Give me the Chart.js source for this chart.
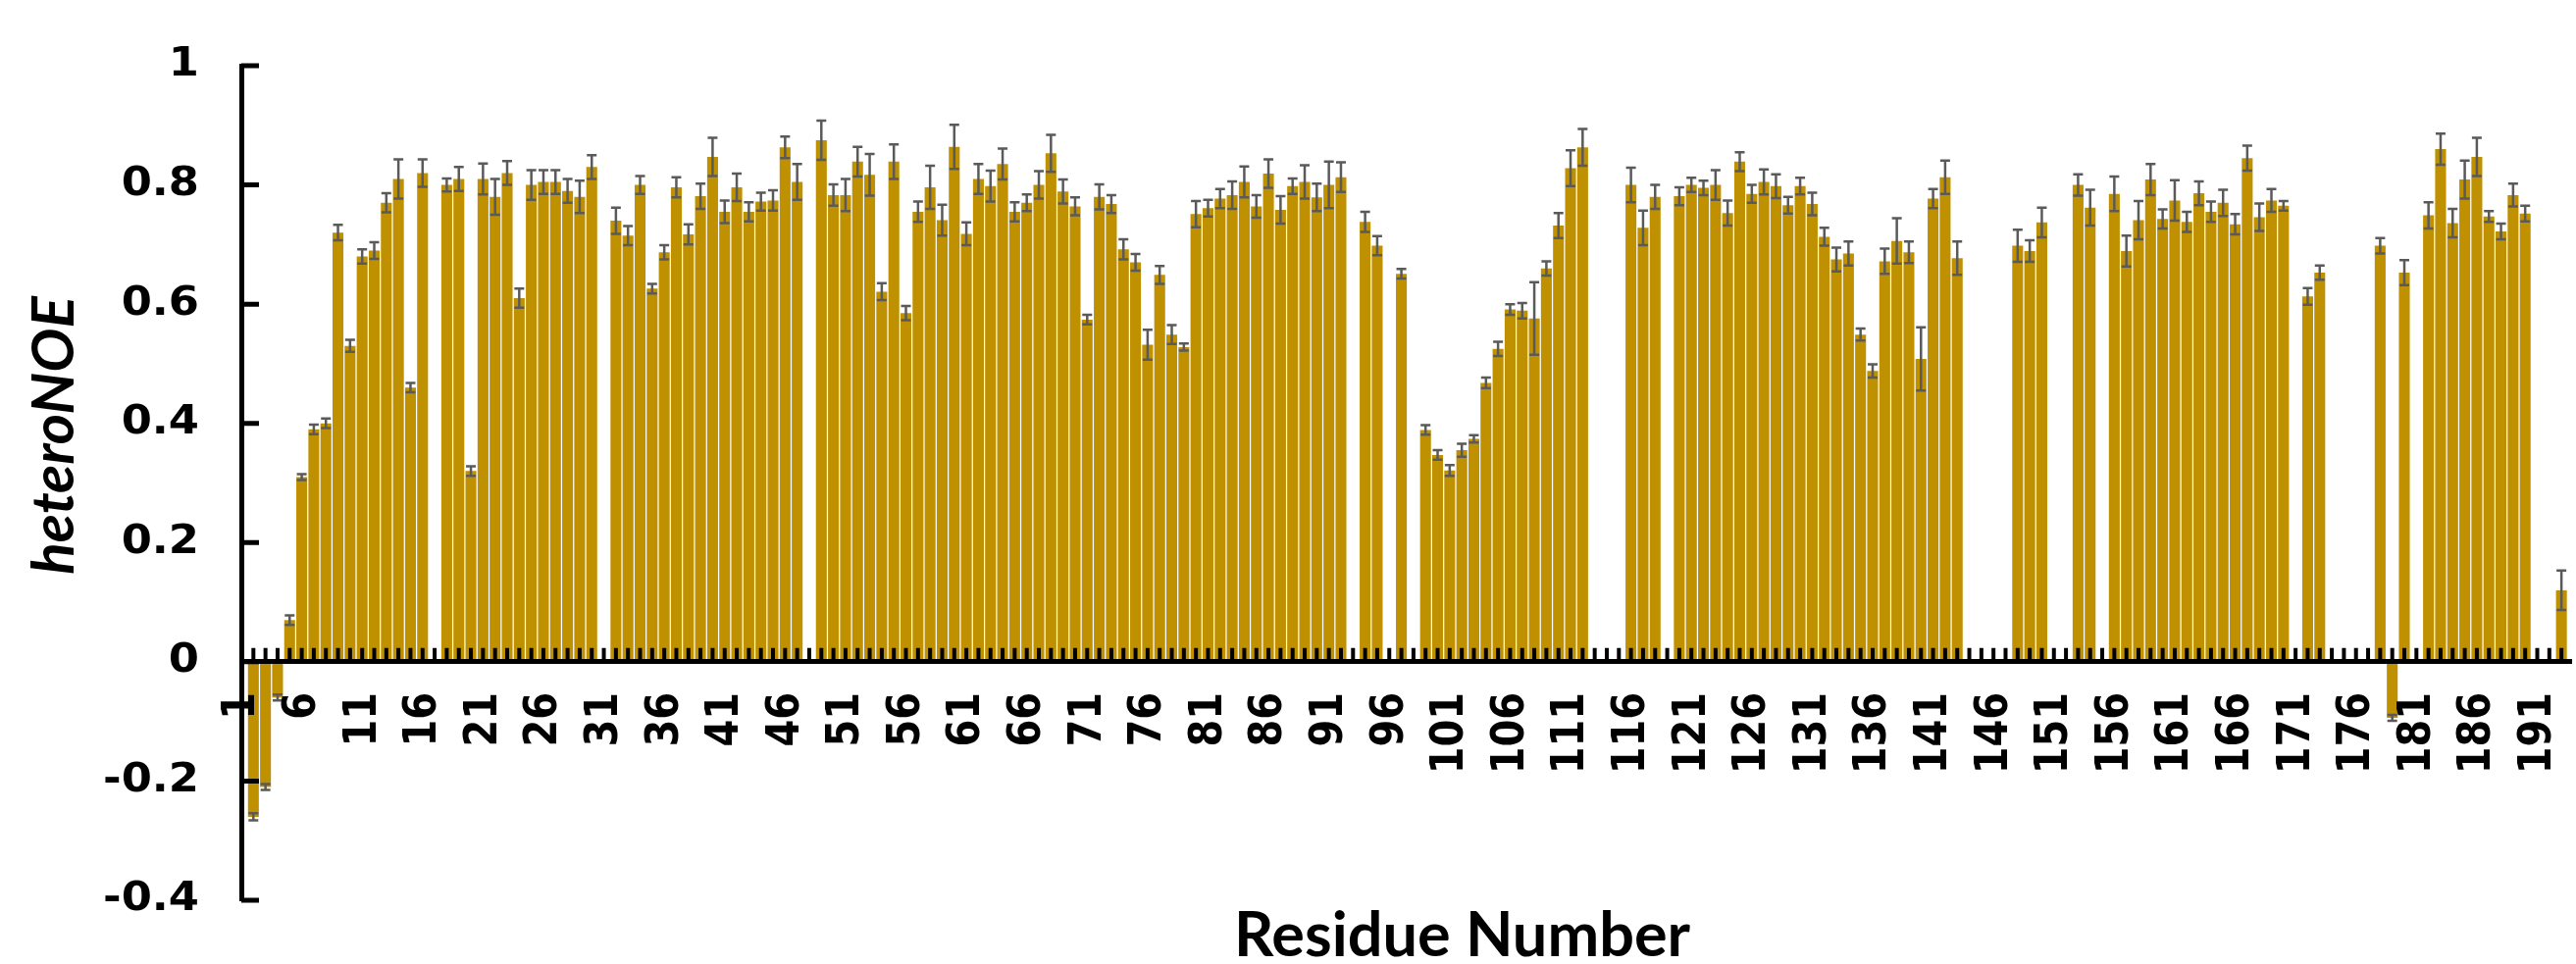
<!DOCTYPE html>
<html>
<head>
<meta charset="utf-8">
<script src="https://cdn.jsdelivr.net/npm/chart.js@4.4.1/dist/chart.umd.min.js"></script>
<style>
  html, body { margin: 0; padding: 0; background: #fff; }
  #wrap { width: 2626px; height: 983px; }
</style>
</head>
<body>
<div id="wrap"><canvas id="chart" width="2626" height="983"></canvas></div>
<script>
// residue numbers (x) of the protein
var residues = [
  1, 2, 3, 4, 5, 6, 7, 8, 9, 10, 11, 12, 13, 14, 15, 16, 17, 18, 19, 20,
  21, 22, 23, 24, 25, 26, 27, 28, 29, 30, 31, 32, 33, 34, 35, 36, 37, 38, 39, 40,
  41, 42, 43, 44, 45, 46, 47, 48, 49, 50, 51, 52, 53, 54, 55, 56, 57, 58, 59, 60,
  61, 62, 63, 64, 65, 66, 67, 68, 69, 70, 71, 72, 73, 74, 75, 76, 77, 78, 79, 80,
  81, 82, 83, 84, 85, 86, 87, 88, 89, 90, 91, 92, 93, 94, 95, 96, 97, 98, 99, 100,
  101, 102, 103, 104, 105, 106, 107, 108, 109, 110, 111, 112, 113, 114, 115, 116, 117, 118, 119, 120,
  121, 122, 123, 124, 125, 126, 127, 128, 129, 130, 131, 132, 133, 134, 135, 136, 137, 138, 139, 140,
  141, 142, 143, 144, 145, 146, 147, 148, 149, 150, 151, 152, 153, 154, 155, 156, 157, 158, 159, 160,
  161, 162, 163, 164, 165, 166, 167, 168, 169, 170, 171, 172, 173, 174, 175, 176, 177, 178, 179, 180,
  181, 182, 183, 184, 185, 186, 187, 188, 189, 190, 191, 192
];

// heteronuclear NOE per residue (null = not assigned)
var heteroNOE = [
  -0.26, -0.21, -0.06, 0.07, 0.31, 0.39, 0.40, 0.72, 0.53, 0.68,
  0.69, 0.77, 0.81, 0.46, 0.82, null, 0.80, 0.81, 0.32, 0.81,
  0.78, 0.82, 0.61, 0.80, 0.805, 0.805, 0.79, 0.78, 0.83, null,
  0.74, 0.715, 0.80, 0.626, 0.687, 0.796, 0.717, 0.781, 0.847, 0.755,
  0.796, 0.755, 0.772, 0.774, 0.863, 0.805, null, 0.875, 0.783, 0.783,
  0.839, 0.817, 0.621, 0.839, 0.585, 0.755, 0.796, 0.741, 0.864, 0.718,
  0.81, 0.798, 0.835, 0.755, 0.77, 0.80, 0.853, 0.789, 0.764, 0.574,
  0.78, 0.768, 0.692, 0.67, 0.532, 0.649, 0.549, 0.528, 0.751, 0.761,
  0.777, 0.783, 0.805, 0.764, 0.819, 0.758, 0.798, 0.805, 0.779, 0.80,
  0.813, null, 0.738, 0.698, null, 0.651, null, 0.389, 0.347, 0.321,
  0.355, 0.374, 0.468, 0.525, 0.591, 0.589, 0.576, 0.66, 0.732, 0.828,
  0.863, null, null, null, 0.80, 0.728, 0.78, null, 0.781, 0.80,
  0.795, 0.80, 0.753, 0.839, 0.785, 0.805, 0.798, 0.766, 0.798, 0.768,
  0.713, 0.675, 0.685, 0.549, 0.488, 0.672, 0.706, 0.687, 0.508, 0.777,
  0.813, 0.677, null, null, null, null, 0.698, 0.689, 0.737, null,
  null, 0.80, 0.762, null, 0.785, 0.689, 0.741, 0.809, 0.743, 0.774,
  0.738, 0.786, 0.755, 0.77, 0.734, 0.845, 0.746, 0.774, 0.765, null,
  0.613, 0.653, null, null, null, null, 0.698, -0.094, 0.653, null,
  0.749, 0.86, 0.736, 0.809, 0.847, 0.747, 0.722, 0.783, 0.752, null,
  null, 0.12
];

// error (+/-) for each residue
var noeError = [
  0.006, 0.005, 0.005, 0.008, 0.005, 0.008, 0.008, 0.013, 0.01, 0.012,
  0.014, 0.016, 0.033, 0.008, 0.023, null, 0.011, 0.02, 0.008, 0.026,
  0.03, 0.02, 0.016, 0.025, 0.02, 0.02, 0.02, 0.027, 0.02, null,
  0.022, 0.016, 0.015, 0.008, 0.012, 0.017, 0.017, 0.021, 0.032, 0.019,
  0.023, 0.016, 0.015, 0.017, 0.018, 0.03, null, 0.033, 0.018, 0.027,
  0.025, 0.035, 0.014, 0.029, 0.012, 0.017, 0.036, 0.026, 0.037, 0.019,
  0.025, 0.026, 0.026, 0.016, 0.014, 0.023, 0.031, 0.02, 0.015, 0.008,
  0.021, 0.015, 0.017, 0.014, 0.025, 0.015, 0.016, 0.006, 0.022, 0.014,
  0.016, 0.023, 0.026, 0.019, 0.024, 0.023, 0.013, 0.028, 0.023, 0.039,
  0.025, null, 0.017, 0.016, null, 0.008, null, 0.008, 0.008, 0.009,
  0.011, 0.006, 0.009, 0.012, 0.009, 0.013, 0.061, 0.012, 0.021, 0.03,
  0.031, null, null, null, 0.029, 0.029, 0.02, null, 0.015, 0.012,
  0.012, 0.025, 0.021, 0.016, 0.015, 0.021, 0.02, 0.014, 0.014, 0.019,
  0.015, 0.02, 0.02, 0.01, 0.011, 0.021, 0.038, 0.018, 0.053, 0.016,
  0.028, 0.028, null, null, null, null, 0.027, 0.018, 0.025, null,
  null, 0.018, 0.03, null, 0.029, 0.026, 0.032, 0.026, 0.016, 0.034,
  0.017, 0.02, 0.017, 0.022, 0.017, 0.021, 0.023, 0.019, 0.008, null,
  0.014, 0.012, null, null, null, null, 0.013, 0.005, 0.021, null,
  0.022, 0.026, 0.024, 0.032, 0.032, 0.009, 0.013, 0.019, 0.013, null,
  null, 0.033
];

// labelled residues on the x axis
var tickLabels = ['1', '6', '11', '16', '21', '26', '31', '36', '41', '46', '51', '56', '61', '66',
  '71', '76', '81', '86', '91', '96', '101', '106', '111', '116', '121', '126', '131', '136',
  '141', '146', '151', '156', '161', '166', '171', '176', '181', '186', '191'];

var barColor = '#BF9000';
var errColor = '#5a5a5a';
var labelFont = 'bold 40px "DejaVu Sans"';

// error bars, inward tick marks, tick labels and axis titles
var decorations = {
  id: 'decorations',
  afterDatasetsDraw: function(chart) {
    var ctx = chart.ctx, x = chart.scales.x, y = chart.scales.y;
    ctx.save();
    ctx.strokeStyle = errColor;
    ctx.lineWidth = 2.5;
    ctx.beginPath();
    heteroNOE.forEach(function(v, i) {
      if (v === null) return;
      var px = x.getPixelForValue(residues[i]);
      var top = y.getPixelForValue(v + noeError[i]);
      var bot = y.getPixelForValue(v - noeError[i]);
      ctx.moveTo(px, top); ctx.lineTo(px, bot);
      ctx.moveTo(px - 5, top); ctx.lineTo(px + 5, top);
      ctx.moveTo(px - 5, bot); ctx.lineTo(px + 5, bot);
    });
    ctx.stroke();

    var y0 = y.getPixelForValue(0);
    ctx.strokeStyle = '#000';
    ctx.lineWidth = 4;
    ctx.beginPath();
    residues.forEach(function(r) {
      var px = x.getPixelForValue(r);
      ctx.moveTo(px, y0);
      ctx.lineTo(px, y0 - 14);
    });
    ctx.stroke();

    ctx.lineWidth = 5;
    ctx.beginPath();
    y.ticks.forEach(function(t) {
      var py = y.getPixelForValue(t.value);
      ctx.moveTo(x.left, py);
      ctx.lineTo(x.left + 18, py);
    });
    ctx.stroke();
    ctx.restore();
  },
  afterDraw: function(chart) {
    var ctx = chart.ctx, area = chart.chartArea, x = chart.scales.x, y = chart.scales.y;
    var y0 = y.getPixelForValue(0);
    ctx.save();
    ctx.fillStyle = '#000';
    ctx.font = labelFont;

    // y tick labels, right aligned left of the axis
    ctx.textAlign = 'right';
    ctx.textBaseline = 'middle';
    y.ticks.forEach(function(t) {
      ctx.save();
      ctx.translate(area.left - 43, y.getPixelForValue(t.value));
      ctx.scale(1.12, 1);
      ctx.fillText(String(Math.round(t.value * 10) / 10), 0, 0);
      ctx.restore();
    });

    // x tick labels, rotated, hanging below the zero line
    tickLabels.forEach(function(l) {
      ctx.save();
      ctx.translate(x.getPixelForValue(Number(l) - 0.9), y0 + 31);
      ctx.scale(1.17, 1);
      ctx.rotate(-Math.PI / 2);
      ctx.fillText(l, 0, 0);
      ctx.restore();
    });

    // axis titles
    ctx.textAlign = 'center';
    ctx.textBaseline = 'alphabetic';
    ctx.font = 'bold 63px Lato';
    ctx.fillText('Residue Number', area.left + 0.524 * (area.right - area.left), 975);
    ctx.translate(75, 444);
    ctx.rotate(-Math.PI / 2);
    ctx.font = 'italic bold 60px Lato';
    ctx.fillText('heteroNOE', 0, 0);
    ctx.restore();
  }
};

function draw() {
  new Chart(document.getElementById('chart').getContext('2d'), {
    type: 'bar',
    data: {
      datasets: [{
        label: 'heteroNOE',
        data: residues.map(function(r, i) { return { x: r, y: heteroNOE[i] }; }),
        backgroundColor: barColor,
        borderWidth: 0,
        barPercentage: 0.9,
        categoryPercentage: 1.0
      }]
    },
    options: {
      responsive: false,
      animation: false,
      devicePixelRatio: 1,
      layout: { padding: { top: 67, bottom: 65, left: 0, right: 5 } },
      plugins: { legend: { display: false }, tooltip: { enabled: false } },
      scales: {
        x: {
          type: 'linear',
          position: { y: 0 },
          min: 0,
          max: 192.8,
          offset: false,
          grid: { display: false, drawTicks: false },
          border: { display: true, color: '#000', width: 5, z: 1 },
          ticks: { display: false }
        },
        y: {
          min: -0.4,
          max: 1,
          grid: { display: false, drawTicks: false },
          border: { display: true, color: '#000', width: 5, z: 1 },
          afterFit: function(scale) { scale.width = 246; },
          ticks: { display: false, stepSize: 0.2 }
        }
      }
    },
    plugins: [decorations]
  });
}

if (document.fonts && document.fonts.load) {
  Promise.all([
    document.fonts.load(labelFont),
    document.fonts.load('bold 63px Lato'),
    document.fonts.load('italic bold 60px Lato')
  ]).then(draw, draw);
} else {
  draw();
}
</script>
</body>
</html>
